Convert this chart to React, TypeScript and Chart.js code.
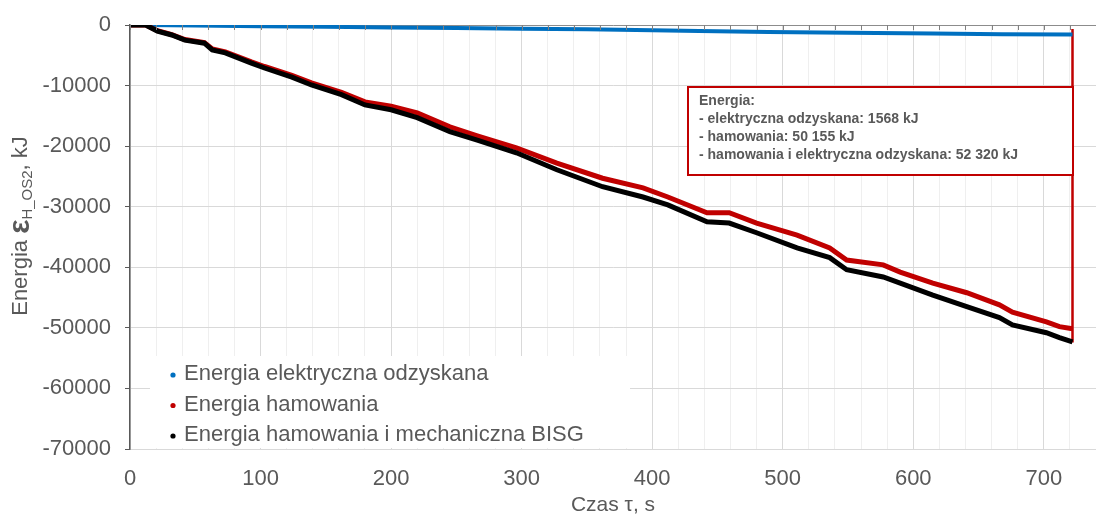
import React, { useEffect, useRef } from "react";
import { Chart, registerables } from "chart.js";

Chart.register(...registerables);

// time (s)
const timeMain = [0, 12, 21, 32, 42, 57, 63, 73, 93, 103, 124, 139, 162, 180, 200, 220, 245, 266, 296, 327, 362, 393, 412, 442, 459, 480, 511, 536, 549, 577, 590, 615, 641, 666, 676, 702, 712, 722];
// Energia hamowania i mechaniczna BISG (black)
const blackValues = [0, 0, -1000, -1650, -2500, -3000, -4100, -4600, -6300, -7100, -8600, -9900, -11500, -13200, -14000, -15300, -17600, -19000, -21100, -23900, -26700, -28400, -29700, -32500, -32700, -34300, -36800, -38400, -40400, -41600, -42600, -44600, -46500, -48300, -49500, -50800, -51600, -52320];
// Energia hamowania (red)
const redValues = [0, 0, -950, -1600, -2400, -2900, -3950, -4450, -6100, -6850, -8300, -9550, -11100, -12700, -13400, -14500, -16800, -18300, -20300, -22800, -25300, -26900, -28400, -31000, -31000, -32700, -34700, -36800, -38800, -39600, -40800, -42600, -44200, -46200, -47400, -49000, -49800, -50155];
// Energia elektryczna odzyskana (blue)
const timeBlue = [0, 12, 50, 100, 150, 200, 250, 300, 350, 400, 436, 489, 550, 615, 668, 722];
const blueValues = [0, 0, -100, -200, -300, -400, -500, -600, -700, -850, -1000, -1150, -1300, -1420, -1530, -1568];
// end marker line
const markerTime = [722, 722];
const markerValues = [-650, -52400];

const seriesLabels = [
  "Energia elektryczna odzyskana",
  "Energia hamowania",
  "Energia hamowania i mechaniczna BISG",
];
const noteLines = [
  "Energia:",
  "- elektryczna odzyskana: 1568 kJ",
  "- hamowania: 50 155 kJ",
  "- hamowania i elektryczna odzyskana: 52 320 kJ",
];

const xMin = 0, xMax = 740, xStep = 20;
const yMin = -70000, yMax = 0, yStep = 10000;

const FONT = "'Liberation Sans', Arial, sans-serif";
const GRAY = "#595959";

const toXY = (xs: number[], ys: number[]) => xs.map((x, i) => ({ x, y: ys[i] }));

export default function App() {
  const ref = useRef<HTMLCanvasElement | null>(null);
  useEffect(() => {
    if (!ref.current) return;
    const decor = {
      id: "decor",
      afterDraw(chart: any) {
        const ctx = chart.ctx;
        const area = chart.chartArea;
        const xs = chart.scales.x;
        ctx.save();
        // top axis line tick marks
        ctx.strokeStyle = "#808080";
        ctx.lineWidth = 1;
        for (let v = xMin; v <= xMax; v += xStep) {
          const px = Math.round(xs.getPixelForValue(v)) + 0.5;
          ctx.beginPath();
          ctx.moveTo(px, area.top);
          ctx.lineTo(px, area.top + 5);
          ctx.stroke();
        }
        // legend box
        ctx.fillStyle = "#ffffff";
        ctx.fillRect(150, 356, 480, area.bottom - 357);
        ctx.font = `22px ${FONT}`;
        ctx.textBaseline = "middle";
        ctx.textAlign = "left";
        const ds = chart.data.datasets;
        for (let i = 0; i < 3; i++) {
          const y = 374 + i * 30.5;
          ctx.fillStyle = ds[i].borderColor;
          ctx.beginPath();
          ctx.arc(173, y + 1, 2.6, 0, Math.PI * 2);
          ctx.fill();
          ctx.fillStyle = GRAY;
          ctx.fillText(ds[i].label, 184, y);
        }
        // annotation box
        ctx.fillStyle = "#ffffff";
        ctx.fillRect(688, 87, 385, 88);
        ctx.strokeStyle = "#c00000";
        ctx.lineWidth = 2;
        ctx.strokeRect(688, 87, 385, 88);
        ctx.fillStyle = GRAY;
        ctx.font = `bold 14px ${FONT}`;
        noteLines.forEach((t, i) => ctx.fillText(t, 699, 101 + i * 18));
        // y axis title
        ctx.translate(21, 0);
        ctx.rotate(-Math.PI / 2);
        const parts = [
          { t: "Energia ", f: `22px ${FONT}`, dy: 0 },
          { t: "ε", f: `bold 30px ${FONT}`, dy: 0 },
          { t: "H_OS2", f: `15px ${FONT}`, dy: 7 },
          { t: ", kJ", f: `22px ${FONT}`, dy: 0 },
        ];
        let total = 0;
        parts.forEach((p) => { ctx.font = p.f; total += ctx.measureText(p.t).width; });
        let pos = -226 - total / 2;
        ctx.fillStyle = GRAY;
        parts.forEach((p) => {
          ctx.font = p.f;
          ctx.fillText(p.t, pos, p.dy);
          pos += ctx.measureText(p.t).width;
        });
        ctx.restore();
      },
    };
    const chart = new Chart(ref.current, {
      type: "line",
      data: {
        datasets: [
          { label: seriesLabels[0], data: toXY(timeBlue, blueValues), borderColor: "#0070c0", borderWidth: 4, pointRadius: 0, order: 2 },
          { label: seriesLabels[1], data: toXY(timeMain, redValues), borderColor: "#c00000", borderWidth: 5, pointRadius: 0, order: 1 },
          { label: seriesLabels[2], data: toXY(timeMain, blackValues), borderColor: "#000000", borderWidth: 5, pointRadius: 0, order: 0 },
          { label: "marker", data: toXY(markerTime, markerValues), borderColor: "#c00000", borderWidth: 2.5, pointRadius: 0, order: 3 },
        ],
      },
      options: {
        animation: false,
        responsive: true,
        maintainAspectRatio: false,
        layout: { padding: { top: 25, right: 0, left: 0, bottom: 0 } },
        plugins: { legend: { display: false }, tooltip: { enabled: false } },
        scales: {
          x: {
            type: "linear",
            min: xMin,
            max: xMax,
            afterFit: (s: any) => { s.height = 66; s.paddingLeft = 0; s.paddingRight = 0; },
            ticks: {
              stepSize: xStep,
              autoSkip: false,
              maxRotation: 0,
              color: GRAY,
              font: { family: FONT, size: 22 },
              padding: 17,
              callback: (v: any) => (Number(v) % 100 === 0 ? String(v) : ""),
            },
            grid: {
              drawTicks: false,
              color: (c: any) => (c.tick && c.tick.value % 100 === 0 ? "#d9d9d9" : "#efefef"),
            },
            border: { color: "#d9d9d9" },
            title: { display: true, text: "Czas τ, s", color: GRAY, font: { family: FONT, size: 21 }, padding: { top: 0, bottom: -3 } },
          },
          y: {
            type: "linear",
            min: yMin,
            max: yMax,
            afterFit: (s: any) => { s.width = 130; s.paddingTop = 0; s.paddingBottom = 0; },
            ticks: {
              stepSize: yStep,
              color: GRAY,
              font: { family: FONT, size: 22 },
              padding: 14,
              callback: (v: any) => String(v),
            },
            grid: {
              color: (c: any) => (c.tick && c.tick.value === 0 ? "#8c8c8c" : "#d9d9d9"),
              tickColor: "#595959",
              tickLength: 5,
            },
            border: { color: "#595959", width: 1.5 },
          },
        },
      },
      plugins: [decor],
    });
    return () => chart.destroy();
  }, []);
  return (
    <div style={{ position: "absolute", left: 0, top: 0, width: 1096, height: 515, background: "#fff" }}>
      <canvas ref={ref} />
    </div>
  );
}
